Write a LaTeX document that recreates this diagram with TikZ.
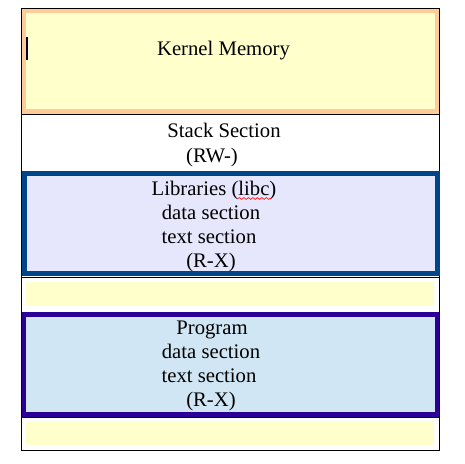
\documentclass[tikz,border=0pt]{standalone}
\usepackage{fontspec}
\setmainfont{Liberation Serif}
\usetikzlibrary{positioning,decorations.pathmorphing}
\definecolor{kernFill}{HTML}{FFFFCC}
\definecolor{kernLine}{HTML}{FFCC99}
\definecolor{libFill}{HTML}{E6E6FC}
\definecolor{libLine}{HTML}{00448A}
\definecolor{progFill}{HTML}{D0E6F4}
\definecolor{progLine}{HTML}{2A0096}
\definecolor{cursorCol}{HTML}{000033}

\begin{document}
\begin{tikzpicture}[x=1pt,y=-1pt]
	\tikzset{secText/.style={anchor=base, inner sep=0, font=\fontsize{20.7}{24}\selectfont}}
	\tikzset{secBox/.style={inner sep=0, minimum width=413}}
	\useasboundingbox (0,0) rectangle (465,463);
	\node (frame) at (230.5,229) [draw, line width=1, inner sep=0, minimum width=418, minimum height=442] {};
	
	% Kernel part at the top
	\node (kernel) at (230.5,61.2) [secBox, draw=kernLine, fill=kernFill, line width=4.5, minimum width=413.4, minimum height=100.8] {};
	\node (kernel_t) at (223.5,55.5) [secText] {Kernel Memory};
	\draw[cursorCol, line width=1.6] (26.8,37) -- (26.8,60);
	\draw (frame.west |- 0,114) -- (frame.east |- 0,114);
	
	% Stack section
	\node (stack_t) at (224,137.5) [secText] {Stack Section};
	\node (stack_p) at (212,162) [secText] {(RW-)};
	
	% Libraries
	\node (libs) at (230.5,223.5) [secBox, draw=libLine, fill=libFill, line width=5, minimum height=100] {};
	\foreach \name/\x/\y/\txt in {libs1/214/195/{Libraries (libc)}, libs2/211/219/{data section}, libs3/209/243/{text section}, libs4/211/267/{(R-X)}}
		\node (\name) at (\x,\y) [secText] {\txt};
	\draw[red, line width=0.6, decorate, decoration={snake, amplitude=0.9, segment length=4.5}] (238,198.5) -- (271,198.5);
	\draw (frame.west |- 0,277) -- (frame.east |- 0,277);
	\node (gap1) at (230,294) [inner sep=0, fill=kernFill, minimum width=408, minimum height=24] {};
	
	% Program
	\node (prog) at (230.5,364.3) [secBox, draw=progLine, fill=progFill, line width=4.7, minimum height=100] {};
	\foreach \name/\x/\y/\txt in {prog1/212/334/{Program}, prog2/211/358/{data section}, prog3/209/382/{text section}, prog4/211/406/{(R-X)}}
		\node (\name) at (\x,\y) [secText] {\txt};
	\draw (frame.west |- 0,417) -- (frame.east |- 0,417);
	\node (gap2) at (230,433) [inner sep=0, fill=kernFill, minimum width=408, minimum height=24] {};
	
\end{tikzpicture}
\end{document}
